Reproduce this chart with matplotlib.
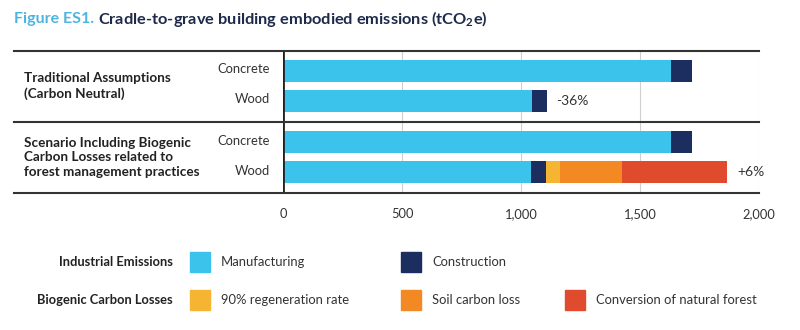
import matplotlib
matplotlib.use("Agg")
import matplotlib.pyplot as plt
import matplotlib.transforms as mtransforms
from matplotlib.patches import Rectangle
from matplotlib.lines import Line2D
import numpy as np

plt.rcParams['font.family'] = ['Lato', 'DejaVu Sans']
plt.rcParams['mathtext.fontset'] = 'custom'
plt.rcParams['mathtext.rm'] = 'Lato'
plt.rcParams['mathtext.bf'] = 'Lato:bold'

# Дані
materials = ['Concrete', 'Wood', 'Concrete', 'Wood']
groups = ['Traditional Assumptions\n(Carbon Neutral)',
          'Scenario Including Biogenic\nCarbon Losses related to\nforest management practices']
manufacturing = [1630, 1045, 1632, 1043]
construction = [87, 63, 85, 62]
regeneration = [0, 0, 0, 57]
soil_loss = [0, 0, 0, 262]
conversion = [0, 0, 0, 443]
change_labels = ['', '-36%', '', '+6%']
x_ticks = [0, 500, 1000, 1500, 2000]
x_tick_labels = ['0', '500', '1,000', '1,500', '2,000']

series = [manufacturing, construction, regeneration, soil_loss, conversion]
series_names = ['Manufacturing', 'Construction', '90% regeneration rate',
                'Soil carbon loss', 'Conversion of natural forest']
colors = ['#3CC3EB', '#1C2D5F', '#F5B432', '#F28923', '#E14B2D']

# Розміщення рядків
y_pos = [0, 1, 2.37, 3.37]
separator = 1.69

fig = plt.figure(figsize=(8, 3.3), dpi=100)
ax = fig.add_axes([283 / 800, 1 - 193 / 330, 476 / 800, 142 / 330])

left = np.zeros(len(materials))
for vals, col in zip(series, colors):
    ax.barh(y_pos, vals, left=left, height=0.73, color=col, zorder=3)
    left += np.array(vals)

for y, total, lab in zip(y_pos, left, change_labels):
    if lab:
        ax.annotate(lab, (total, y), xytext=(7, 0), textcoords='offset points',
                    va='center', ha='left', fontsize=10, color='#333333')

ax.set_xlim(0, 2000)
ax.set_ylim(4.07, -0.667)
ax.set_xticks(x_ticks)
ax.set_xticklabels(x_tick_labels, fontsize=9.3, color='#333333')
ax.tick_params(axis='x', length=0, pad=11)
ax.set_yticks([])
for s in ax.spines.values():
    s.set_visible(False)
for t in x_ticks[1:]:
    ax.axvline(t, color='#cfcfcf', lw=0.8, zorder=1)
ax.axvline(0, color='#222222', lw=2.0, zorder=4)

# Горизонтальні лінії таблиці
tr = mtransforms.blended_transform_factory(fig.transFigure, ax.transData)
for y in [-0.667, separator, 4.07]:
    ax.add_line(Line2D([14 / 800, 759 / 800], [y, y], transform=tr,
                       color='#333333', lw=1.5, clip_on=False, zorder=5))

# Підписи матеріалів та груп
for y, m in zip(y_pos, materials):
    ax.text(270 / 800, y - 0.05, m, transform=tr, ha='right', va='center',
            fontsize=9.4, color='#333333')
ax.text(24 / 800, (y_pos[0] + y_pos[1]) / 2, groups[0], transform=tr,
        ha='left', va='center', fontsize=9.7, fontweight='bold', color='#222222',
        linespacing=1.25)
ax.text(24 / 800, (y_pos[2] + y_pos[3]) / 2, groups[1], transform=tr,
        ha='left', va='center', fontsize=9.7, fontweight='bold', color='#222222',
        linespacing=1.25)

# Заголовок
renderer = fig.canvas.get_renderer()
t1 = fig.text(14 / 800, 1 - 19 / 330, 'Figure ES1.', fontsize=11.5,
              fontweight='bold', color='#4DB4E1', va='center', ha='left')
bb = t1.get_window_extent(renderer=renderer)
fig.text(bb.x1 / 800 + 4 / 800, 1 - 19 / 330,
         r'Cradle-to-grave building embodied emissions (tCO$_\mathbf{2}$e)',
         fontsize=11.8, fontweight='bold', color='#1E2A4A', va='center', ha='left')

# Легенда
legend_rows = [('Industrial Emissions', [0, 1]), ('Biogenic Carbon Losses', [2, 3, 4])]
row_y = [262, 300]
col_x = [190, 401, 565]
for (title, idxs), ry in zip(legend_rows, row_y):
    fig.text(173 / 800, 1 - ry / 330, title, ha='right', va='center',
             fontsize=9.3, fontweight='bold', color='#222222')
    for cx, i in zip(col_x, idxs):
        fig.patches.append(Rectangle((cx / 800, 1 - (ry + 10) / 330), 20 / 800, 20 / 330,
                                     transform=fig.transFigure, color=colors[i]))
        fig.text((cx + 31) / 800, 1 - ry / 330, series_names[i], ha='left', va='center',
                 fontsize=9.4, color='#333333')

fig.savefig('out.png', dpi=100, facecolor='white')
